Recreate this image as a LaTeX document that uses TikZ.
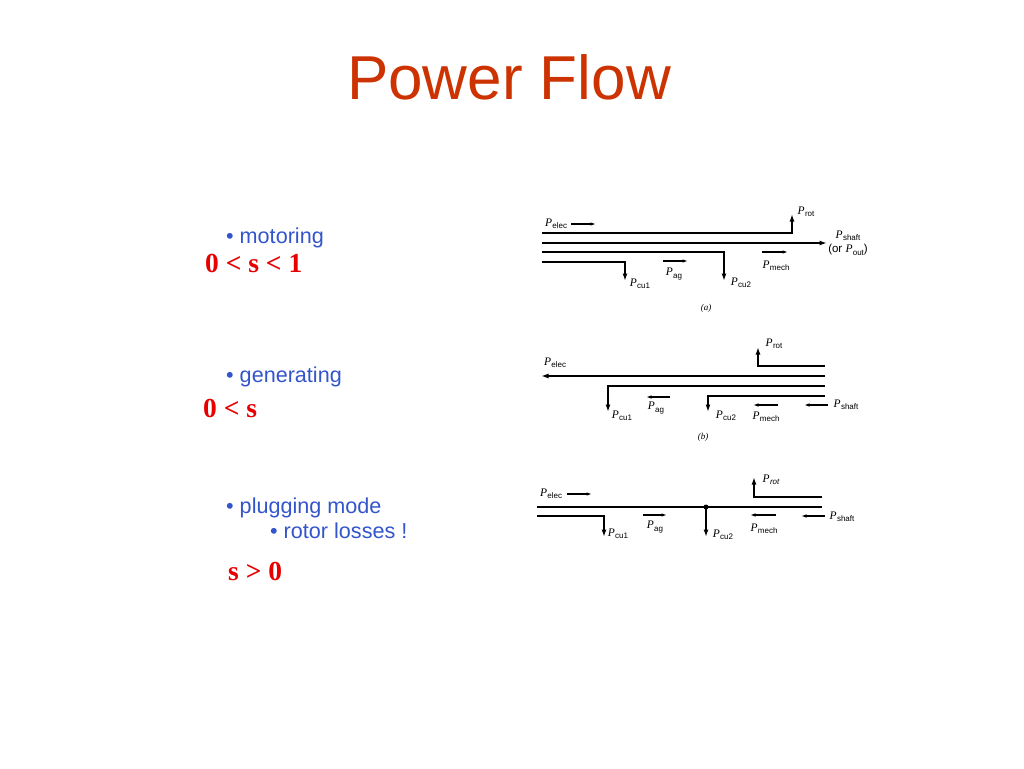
\documentclass[tikz,border=0pt]{standalone}
\usepackage{fontspec}
\setmainfont{Liberation Sans}
\newfontfamily\timesfont{Liberation Serif}
\usetikzlibrary{arrows.meta}
\definecolor{titlered}{RGB}{204,51,0}
\definecolor{modeblue}{RGB}{51,85,204}
\definecolor{slipred}{RGB}{232,0,0}
\tikzset{
    ttl/.style={anchor=base,inner sep=0pt,text=titlered,font=\fontsize{62}{62}\selectfont},
    mode/.style={anchor=base west,inner sep=0pt,text=modeblue,font=\fontsize{21.6}{22}\selectfont},
    slip/.style={anchor=base west,inner sep=0pt,text=slipred,font=\timesfont\bfseries\fontsize{27.5}{28}\selectfont},
    flow/.style={line width=1.8pt,-{Latex[length=7.5pt,width=5pt]}},
    bar/.style={line width=1.8pt},
    flowdir/.style={line width=1.1pt,-{Latex[length=5.5pt,width=3.5pt]}},
    plab/.style={inner sep=0pt,font=\fontsize{11.5}{12}\selectfont},
    subcap/.style={inner sep=0pt,font=\timesfont\itshape\fontsize{9}{9}\selectfont}
}
\newcommand{\pw}[1]{{\timesfont\itshape P}\kern0.3pt\raisebox{-0.35ex}{\fontsize{8}{8}\selectfont #1}}
\newcommand{\pwi}[1]{{\timesfont\itshape P}\kern0.3pt\raisebox{-0.35ex}{\fontsize{8}{8}\selectfont\itshape #1}}
\begin{document}
\begin{tikzpicture}[x=1pt,y=-1pt]
                \fill[white] (0,0) rectangle (1024,768);
                \node[ttl] (title) at(509,99) {Power Flow};

                \node[mode] (motor) at(226,243) {• motoring};
                \node[slip] (motorslip) at(205,272) {0 < s < 1};
                \node[mode] (gen) at(226,382) {• generating};
                \node[slip] (genslip) at(203,417) {0 < s};
                \node[mode] (plug) at(226,513) {• plugging mode};
                \node[mode] (rotorloss) at(270,538) {• rotor losses !};
                \node[slip] (plugslip) at(228,580) {s > 0};

                % (a) motoring
                \coordinate (a1) at(542,233);
                \coordinate (a2) at(542,243);
                \coordinate (a3) at(542,252);
                \coordinate (a4) at(542,262);
                \coordinate (arot) at(792,214);
                \coordinate (ashaft) at(827,243);
                \coordinate (acu2) at(724,281);
                \coordinate (acu1) at(625,281);
                \draw[flow] (a1) -| (arot);
                \draw[flow] (a2) -- (ashaft);
                \draw[flow] (a3) -| (acu2);
                \draw[flow] (a4) -| (acu1);
                \draw[flowdir] (571,224) -- (596,224);
                \draw[flowdir] (663,261) -- (688,261);
                \draw[flowdir] (762,252) -- (788,252);
                \node[plab] (aelec) at(556,224) {\pw{elec}};
                \node[plab] (arotl) at(806,212) {\pw{rot}};
                \node[plab] (ashaftl) at(848,236) {\pw{shaft}};
                \node[plab] (aoutl) at(848,250) {(or \pw{out})};
                \node[plab] (acu1l) at(640,284) {\pw{cu1}};
                \node[plab] (agl) at(674,274) {\pw{ag}};
                \node[plab] (acu2l) at(741,283) {\pw{cu2}};
                \node[plab] (amech) at(776,266) {\pw{mech}};
                \node[subcap] (acap) at(706,308) {(a)};

                % (b) generating
                \coordinate (b1) at(825,366);
                \coordinate (b2) at(825,376);
                \coordinate (b3) at(825,386);
                \coordinate (b4) at(825,396);
                \coordinate (brot) at(758,347);
                \coordinate (belec) at(541,376);
                \coordinate (bcu1) at(608,412);
                \coordinate (bcu2) at(708,412);
                \draw[flow] (b1) -| (brot);
                \draw[flow] (b2) -- (belec);
                \draw[flow] (b3) -| (bcu1);
                \draw[flow] (b4) -| (bcu2);
                \draw[flowdir] (670,397) -- (646,397);
                \draw[flowdir] (778,405) -- (753,405);
                \draw[flowdir] (828,405) -- (804,405);
                \node[plab] (belecl) at(555,363) {\pw{elec}};
                \node[plab] (brotl) at(774,344) {\pw{rot}};
                \node[plab] (bcu1l) at(622,416) {\pw{cu1}};
                \node[plab] (bagl) at(656,408) {\pw{ag}};
                \node[plab] (bcu2l) at(726,416) {\pw{cu2}};
                \node[plab] (bmech) at(766,417) {\pw{mech}};
                \node[plab] (bshaft) at(846,405) {\pw{shaft}};
                \node[subcap] (bcap) at(703,437) {(b)};

                % (c) plugging
                \coordinate (c1) at(822,497);
                \coordinate (crot) at(754,477);
                \coordinate (cw) at(537,507);
                \coordinate (ce) at(822,507);
                \coordinate (cj) at(706,507);
                \coordinate (c3) at(537,516);
                \coordinate (ccu1) at(604,537);
                \coordinate (ccu2) at(706,537);
                \draw[flow] (c1) -| (crot);
                \draw[bar] (cw) -- (ce);
                \fill (cj) circle (2.5);
                \draw[flow] (c3) -| (ccu1);
                \draw[flow] (cj) -- (ccu2);
                \draw[flowdir] (567,494) -- (592,494);
                \draw[flowdir] (643,515) -- (667,515);
                \draw[flowdir] (776,515) -- (750,515);
                \draw[flowdir] (825,516) -- (801,516);
                \node[plab] (celecl) at(551,494) {\pw{elec}};
                \node[plab] (crotl) at(771,480) {\pwi{rot}};
                \node[plab] (ccu1l) at(618,534) {\pw{cu1}};
                \node[plab] (cagl) at(655,527) {\pw{ag}};
                \node[plab] (ccu2l) at(723,535) {\pw{cu2}};
                \node[plab] (cmech) at(764,529) {\pw{mech}};
                \node[plab] (cshaft) at(842,517) {\pw{shaft}};
\end{tikzpicture}
\end{document}
